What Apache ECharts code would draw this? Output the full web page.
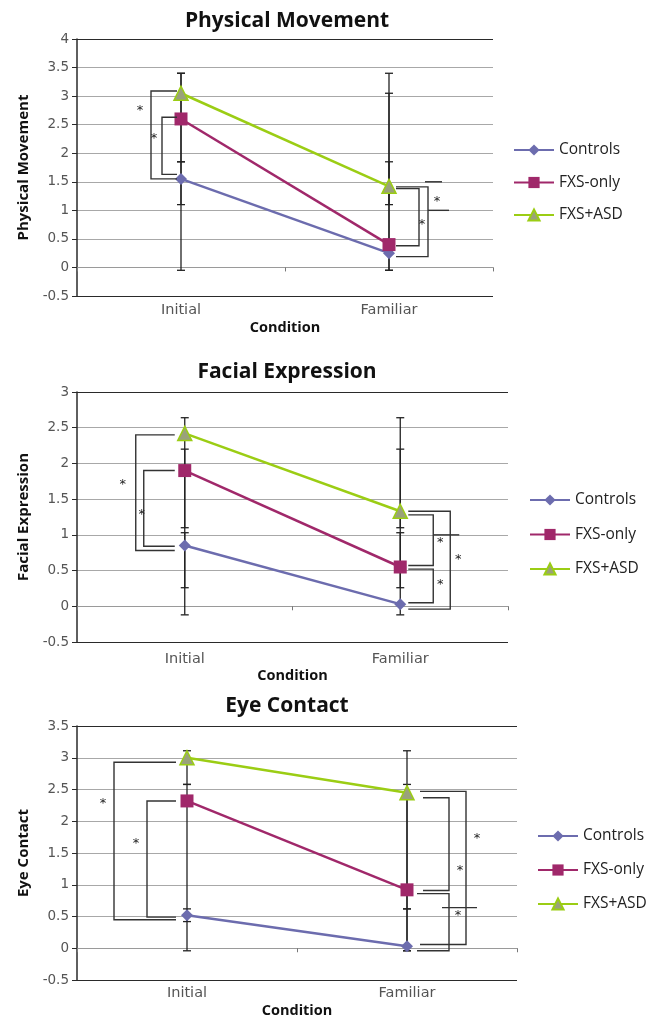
<!DOCTYPE html>
<html><head><meta charset="utf-8">
<script src="https://cdn.jsdelivr.net/npm/echarts@6/dist/echarts.min.js"></script>
<style>html,body{margin:0;padding:0;background:#fff}#c{width:666px;height:1019px}</style>
</head><body><div id="c"></div>
<script>
// ---------------- DATA ----------------
const categories = ['Initial', 'Familiar'];
const seriesNames = ['Controls', 'FXS-only', 'FXS+ASD'];

// Physical Movement
const pmTitle = 'Physical Movement';
const pmYTicks = [-0.5, 0, 0.5, 1, 1.5, 2, 2.5, 3, 3.5, 4];
const pmControls = [1.55, 0.25];
const pmFxsOnly = [2.6, 0.4];
const pmFxsAsd = [3.05, 1.42];
const pmControlsErr = [[1.1, 1.85], [-0.05, 3.4]];
const pmFxsOnlyErr = [[1.85, 3.4], [-0.05, 3.05]];
const pmFxsAsdErr = [[-0.05, 3.4], [1.1, 1.85]];
const pmBracketCat = [0, 0, 1, 1];
const pmBracketY = [[3.09, 1.55], [2.63, 1.63], [1.38, 0.38], [1.41, 0.19]];
const pmStubCat = [1, 1];
const pmStubY = [1.0, 1.5];
const pmStarCat = [0, 0, 1, 1];
const pmStarY = [2.8, 2.3, 0.8, 1.2];

// Facial Expression
const feTitle = 'Facial Expression';
const feYTicks = [-0.5, 0, 0.5, 1, 1.5, 2, 2.5, 3];
const feControls = [0.85, 0.03];
const feFxsOnly = [1.9, 0.55];
const feFxsAsd = [2.42, 1.33];
const feControlsErr = [[0.26, 1.03], [-0.12, 1.03]];
const feFxsOnlyErr = [[1.1, 2.2], [0.26, 2.64]];
const feFxsAsdErr = [[-0.12, 2.64], [1.1, 2.2]];
const feBracketCat = [0, 0, 1, 1, 1];
const feBracketY = [[2.40, 0.78], [1.90, 0.84], [1.28, 0.57], [0.52, 0.05], [1.33, -0.04]];
const feStubCat = [1];
const feStubY = [1.0];
const feStarCat = [0, 0, 1, 1, 1];
const feStarY = [1.75, 1.32, 0.93, 0.70, 0.35];

// Eye Contact
const ecTitle = 'Eye Contact';
const ecYTicks = [-0.5, 0, 0.5, 1, 1.5, 2, 2.5, 3, 3.5];
const ecControls = [0.52, 0.03];
const ecFxsOnly = [2.32, 0.92];
const ecFxsAsd = [3.0, 2.45];
const ecControlsErr = [[0.42, 0.62], [-0.04, 0.62]];
const ecFxsOnlyErr = [[-0.04, 2.58], [0.62, 2.58]];
const ecFxsAsdErr = [[2.58, 3.11], [-0.04, 3.11]];
const ecBracketCat = [0, 0, 1, 1, 1];
const ecBracketY = [[2.93, 0.45], [2.32, 0.49], [2.47, 0.06], [2.37, 0.91], [0.86, -0.04]];
const ecStubCat = [1];
const ecStubY = [0.64];
const ecStarCat = [0, 0, 1, 1, 1];
const ecStarY = [2.33, 1.70, 1.78, 1.27, 0.56];

// ---------------- LAYOUT / STYLE ----------------
const colors = ['#6C6CAE', '#A0286A', '#9BCD14'];
const panels = [
  { title: pmTitle, yName: 'Physical Movement', ticks: pmYTicks,
    vals: [pmControls, pmFxsOnly, pmFxsAsd], errs: [pmControlsErr, pmFxsOnlyErr, pmFxsAsdErr],
    bCat: pmBracketCat, bY: pmBracketY, bDx: [[-4, -30], [-4, -19], [7, 30], [7, 39]],
    sCat: pmStubCat, sY: pmStubY, sDx: [[39, 60], [36, 53]],
    stCat: pmStarCat, stY: pmStarY, stDx: [-41, -27, 33, 48],
    grid: { left: 77, top: 39, width: 416, height: 257 }, titleY: 21,
    labelMargin: 7, nameGap: 24, legendLeft: 513, legendTop: 142, legendGap: 16.5 },
  { title: feTitle, yName: 'Facial Expression', ticks: feYTicks,
    vals: [feControls, feFxsOnly, feFxsAsd], errs: [feControlsErr, feFxsOnlyErr, feFxsAsdErr],
    bCat: feBracketCat, bY: feBracketY, bDx: [[-10, -49], [-10, -41], [8, 33], [8, 33], [8, 50]],
    sCat: feStubCat, sY: feStubY, sDx: [[33, 59]],
    stCat: feStarCat, stY: feStarY, stDx: [-62, -43, 40, 58, 40],
    grid: { left: 77, top: 392, width: 431, height: 250 }, titleY: 372,
    labelMargin: 10, nameGap: 24, legendLeft: 529, legendTop: 492, legendGap: 18.5 },
  { title: ecTitle, yName: 'Eye Contact', ticks: ecYTicks,
    vals: [ecControls, ecFxsOnly, ecFxsAsd], errs: [ecControlsErr, ecFxsOnlyErr, ecFxsAsdErr],
    bCat: ecBracketCat, bY: ecBracketY, bDx: [[-11, -73], [-11, -40], [13, 59], [16, 42], [10, 42]],
    sCat: ecStubCat, sY: ecStubY, sDx: [[35, 70]],
    stCat: ecStarCat, stY: ecStarY, stDx: [-84, -51, 70, 53, 51],
    grid: { left: 77, top: 726, width: 440, height: 254 }, titleY: 706,
    labelMargin: 6, nameGap: 23, legendLeft: 537, legendTop: 828, legendGap: 18 }
];

const symbols = ['diamond', 'rect', 'triangle'];
const symbolSizes = [12, 13, 14];
const dark = '#2a2a2a';
const gridGray = '#a8a8a8';

const option = {
  animation: false,
  backgroundColor: '#fff',
  grid: [], xAxis: [], yAxis: [], series: [], legend: [], graphic: []
};

panels.forEach((p, i) => {
  const t = p.ticks;
  const splitColors = t.map((v, k) => (k === 0 || k === t.length - 1) ? dark : gridGray);
  option.grid.push(Object.assign({ containLabel: false, outerBoundsMode: 'none' }, p.grid));
  option.graphic.push({
    type: 'text', x: p.grid.left + 210, y: p.titleY,
    style: { text: p.title, align: 'center', verticalAlign: 'middle',
      font: 'bold 21px "Open Sans", sans-serif', fill: '#111' }
  });
  option.xAxis.push({
    type: 'category', gridIndex: i, data: categories,
    axisLine: { onZero: true, lineStyle: { color: '#9a9a9a', width: 1 } },
    axisTick: { show: true, length: 4, lineStyle: { color: '#777' } },
    axisLabel: { margin: p.labelMargin, fontFamily: 'DejaVu Sans', fontSize: 14.5, color: '#555' },
    name: 'Condition', nameLocation: 'middle', nameGap: p.nameGap,
    nameTextStyle: { fontFamily: 'Open Sans', fontWeight: 'bold', fontSize: 14.5, color: '#111' }
  });
  option.yAxis.push({
    type: 'value', gridIndex: i, min: t[0], max: t[t.length - 1], interval: t[1] - t[0],
    axisLine: { show: true, lineStyle: { color: dark, width: 1.5 } },
    axisTick: { show: true, length: 5, lineStyle: { color: dark } },
    axisLabel: { margin: 8, fontFamily: 'DejaVu Sans', fontSize: 13.5, color: '#555' },
    splitLine: { show: true, lineStyle: { color: splitColors, width: 1 } },
    name: p.yName, nameLocation: 'middle', nameGap: 46,
    nameTextStyle: { fontFamily: 'Open Sans', fontWeight: 'bold', fontSize: 15, color: '#111' }
  });

  // error bars
  const errData = [];
  p.errs.forEach(e => e.forEach((lh, c) => errData.push([c, lh[0], lh[1]])));
  option.series.push({
    type: 'custom', xAxisIndex: i, yAxisIndex: i, z: 1, silent: true,
    encode: { x: 0, y: [1, 2] }, data: errData,
    renderItem: (params, api) => {
      const lo = api.coord([api.value(0), api.value(1)]);
      const hi = api.coord([api.value(0), api.value(2)]);
      const st = { stroke: '#222', lineWidth: 1.3 };
      return { type: 'group', children: [
        { type: 'line', shape: { x1: lo[0], y1: lo[1], x2: hi[0], y2: hi[1] }, style: st },
        { type: 'line', shape: { x1: lo[0] - 4, y1: lo[1], x2: lo[0] + 4, y2: lo[1] }, style: st },
        { type: 'line', shape: { x1: hi[0] - 4, y1: hi[1], x2: hi[0] + 4, y2: hi[1] }, style: st }
      ] };
    }
  });

  // lines
  seriesNames.forEach((nm, k) => {
    option.series.push({
      type: 'line', name: nm, xAxisIndex: i, yAxisIndex: i, z: 3,
      data: p.vals[k], symbol: symbols[k], symbolSize: symbolSizes[k], showSymbol: true,
      lineStyle: { color: colors[k], width: 2.5 },
      itemStyle: k === 2 ? { color: '#9AA27A', borderColor: colors[2], borderWidth: 1.5 } : { color: colors[k] }
    });
  });

  // brackets
  const brData = p.bY.map((yy, k) => [p.bCat[k], yy[0], yy[1], p.bDx[k][0], p.bDx[k][1]]);
  option.series.push({
    type: 'custom', xAxisIndex: i, yAxisIndex: i, z: 4, silent: true,
    encode: { x: 0, y: [1, 2] }, data: brData,
    renderItem: (params, api) => {
      const a = api.coord([api.value(0), api.value(1)]);
      const b = api.coord([api.value(0), api.value(2)]);
      const xs = a[0] + api.value(3), xv = a[0] + api.value(4);
      return { type: 'polyline', shape: { points: [[xs, a[1]], [xv, a[1]], [xv, b[1]], [xs, b[1]]] },
        style: { stroke: '#333', lineWidth: 1.4, fill: null } };
    }
  });
  // stubs
  const stubData = p.sY.map((y, k) => [p.sCat[k], y, p.sDx[k][0], p.sDx[k][1]]);
  option.series.push({
    type: 'custom', xAxisIndex: i, yAxisIndex: i, z: 4, silent: true,
    encode: { x: 0, y: 1 }, data: stubData,
    renderItem: (params, api) => {
      const a = api.coord([api.value(0), api.value(1)]);
      return { type: 'line', shape: { x1: a[0] + api.value(2), y1: a[1], x2: a[0] + api.value(3), y2: a[1] },
        style: { stroke: '#333', lineWidth: 1.4 } };
    }
  });
  // stars
  const starData = p.stY.map((y, k) => [p.stCat[k], y, p.stDx[k]]);
  option.series.push({
    type: 'custom', xAxisIndex: i, yAxisIndex: i, z: 5, silent: true,
    encode: { x: 0, y: 1 }, data: starData,
    renderItem: (params, api) => {
      const a = api.coord([api.value(0), api.value(1)]);
      return { type: 'text', x: a[0] + api.value(2), y: a[1] + 3,
        style: { text: '*', align: 'center', verticalAlign: 'middle',
          font: '13px "DejaVu Sans", sans-serif', fill: '#222' } };
    }
  });

  option.legend.push({
    orient: 'vertical', left: p.legendLeft, top: p.legendTop, padding: 0,
    itemWidth: 40, itemHeight: 14, itemGap: p.legendGap,
    data: seriesNames,
    textStyle: { fontFamily: 'Open Sans', fontSize: 15.5, color: '#222' }
  });
});

const chart = echarts.init(document.getElementById('c'));
chart.setOption(option);
</script>
</body></html>
